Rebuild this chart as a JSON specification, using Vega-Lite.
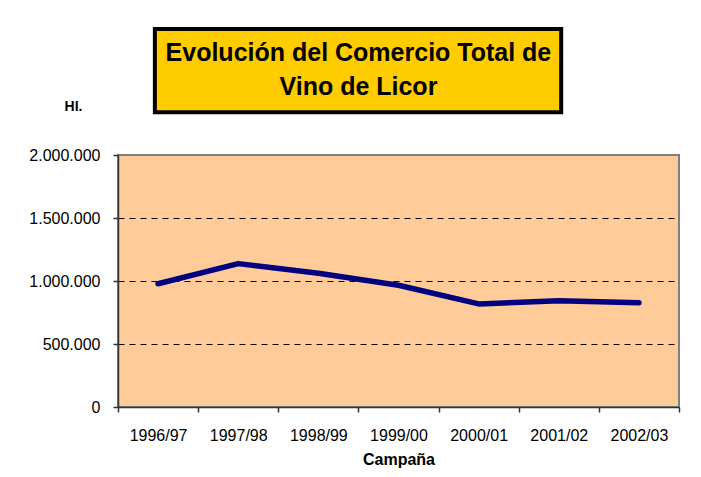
{
  "$schema": "https://vega.github.io/schema/vega-lite/v6.json",
  "width": 561,
  "height": 252,
  "autosize": {"type": "none"},
  "padding": {"left": 118, "top": 155, "right": 22, "bottom": 70},
  "background": "white",
  "config": {
    "locale": {"number": {"decimal": ",", "thousands": ".", "grouping": [3], "currency": ["", " €"]}},
    "font": "Liberation Sans",
    "view": {"fill": "#FFCC99", "stroke": "#808080", "strokeWidth": 2}
  },
  "data": {
    "values": [
      {"campana": "1996/97", "hl": 978000},
      {"campana": "1997/98", "hl": 1138000},
      {"campana": "1998/99", "hl": 1061000},
      {"campana": "1999/00", "hl": 966000},
      {"campana": "2000/01", "hl": 818000},
      {"campana": "2001/02", "hl": 844000},
      {"campana": "2002/03", "hl": 828000}
    ]
  },
  "layer": [
    {
      "mark": {"type": "line", "color": "#000080", "strokeWidth": 5.5, "strokeCap": "round", "strokeJoin": "round"},
      "encoding": {
        "x": {
          "field": "campana",
          "type": "ordinal",
          "scale": {"domain": ["1996/97", "1997/98", "1998/99", "1999/00", "2000/01", "2001/02", "2002/03"], "paddingInner": 0, "paddingOuter": 0},
          "axis": {
            "title": "Campaña",
            "labelAngle": 0,
            "tickBand": "extent",
            "tickSize": 5,
            "tickColor": "#333333",
            "tickWidth": 1.5,
            "domainColor": "#333333",
            "domainWidth": 1.5,
            "labelFontSize": 16,
            "labelColor": "#000000",
            "labelPadding": 15,
            "titleFontSize": 16,
            "titleFontWeight": "bold",
            "titleColor": "#000000",
            "titlePadding": 8,
            "grid": false
          }
        },
        "y": {
          "field": "hl",
          "type": "quantitative",
          "scale": {"domain": [0, 2000000], "nice": false},
          "axis": {
            "values": [0, 500000, 1000000, 1500000, 2000000],
            "format": ",d",
            "title": "HI.",
            "titleAngle": 0,
            "titleX": -45,
            "titleY": -49,
            "titleAlign": "center",
            "titleBaseline": "middle",
            "titleFontSize": 14,
            "titleFontWeight": "bold",
            "titleColor": "#000000",
            "labelFontSize": 16,
            "labelColor": "#000000",
            "labelPadding": 13,
            "tickSize": 5,
            "tickColor": "#333333",
            "tickWidth": 1.5,
            "domainColor": "#333333",
            "domainWidth": 1.5,
            "grid": true,
            "gridColor": "#000000",
            "gridDash": [6, 5],
            "gridWidth": 1,
            "gridOpacity": {"condition": {"test": "datum.value === 0 || datum.value === 2000000", "value": 0}, "value": 1}
          }
        }
      }
    },
    {
      "data": {"values": [{"box": "titulo"}]},
      "mark": {"type": "rect", "fill": "#FFCC00", "stroke": "#000000", "strokeWidth": 4},
      "encoding": {
        "x": {"datum": "1996/97", "bandPosition": 0.46},
        "x2": {"datum": "2001/02", "bandPosition": 0.53},
        "y": {"datum": 3000000},
        "y2": {"datum": 2340000}
      }
    },
    {
      "data": {"values": [{"box": "titulo"}]},
      "mark": {
        "type": "text",
        "text": ["Evolución del Comercio Total de", "Vino de Licor"],
        "font": "Liberation Sans",
        "fontSize": 25,
        "fontWeight": "bold",
        "color": "#000000",
        "align": "center",
        "baseline": "alphabetic",
        "lineHeight": 34
      },
      "encoding": {
        "x": {"datum": "1999/00", "bandPosition": 0},
        "y": {"datum": 2750000}
      }
    }
  ]
}
